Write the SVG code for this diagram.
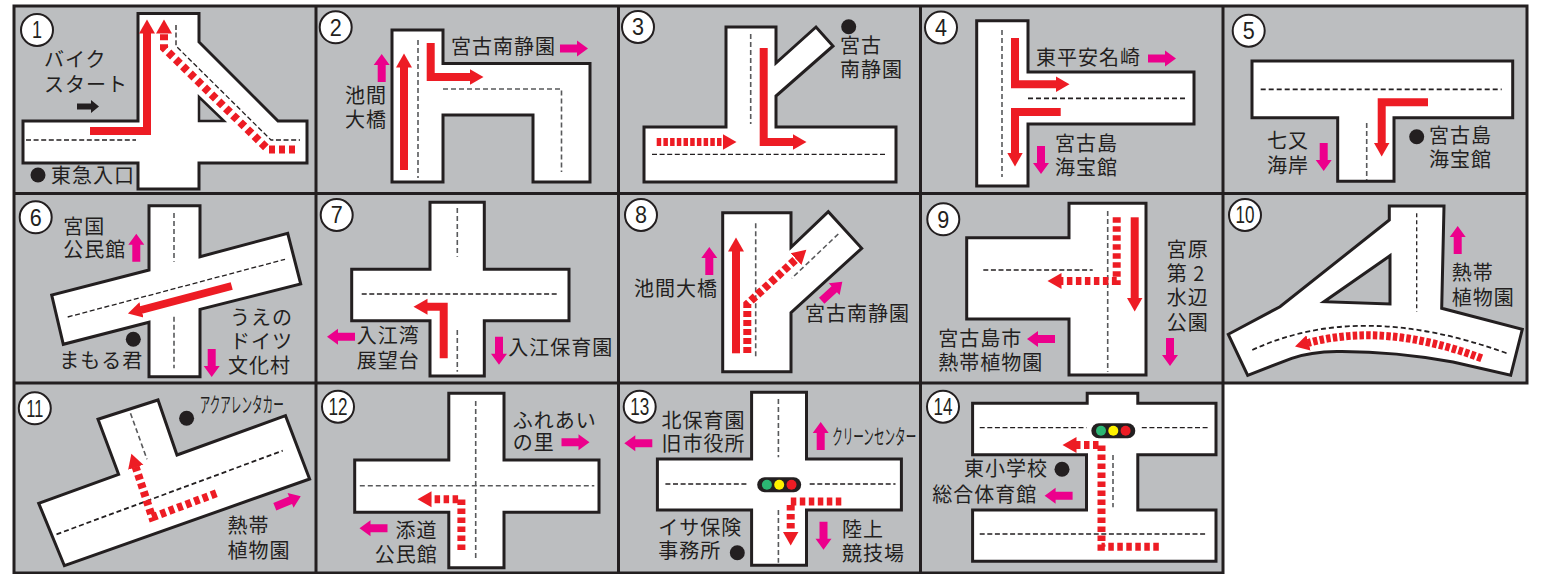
<svg xmlns="http://www.w3.org/2000/svg" width="1541" height="574" viewBox="0 0 1541 574">
<style>
.bg{fill:#bcbec0}
.grid{fill:none;stroke:#231f20;stroke-width:3}
.road{fill:#fff;stroke:#231f20;stroke-width:3;stroke-linejoin:miter}
.hole{fill:#bcbec0;stroke:#231f20;stroke-width:3}
.d{fill:none;stroke:#231f20;stroke-width:1.300;stroke-dasharray:5 2.600}
.h{fill:none;stroke:#231f20;stroke-width:1.800;stroke-dasharray:5 3}
.g{fill:none;stroke:#58595b;stroke-width:1.600;stroke-dasharray:5 3}
.r{fill:none;stroke:#ed1c24;stroke-width:8;marker-end:url(#h)}
.q{stroke-dasharray:5.500 3.500}
.qf{stroke-dasharray:4.500 2.200}
.t{font-family:"Noto Sans CJK JP","Liberation Sans",sans-serif;font-size:20px;letter-spacing:1px;fill:#231f20}
.k{font-family:"Noto Sans CJK JP","Liberation Sans",sans-serif;font-size:21px;fill:#231f20}
.c{fill:#fff;stroke:#231f20;stroke-width:2}
.n{font-family:"Liberation Sans",sans-serif;font-size:23px;fill:#231f20;text-anchor:middle}
.b{fill:#231f20}
.p{fill:#ec008c}
</style>
<defs>
<marker id="h" markerUnits="userSpaceOnUse" markerWidth="16" markerHeight="18" refX="0.5" refY="9" orient="auto"><path d="M0,1L14,9L0,17Z" fill="#ed1c24"/></marker>
<path id="pa" d="M0,-4H17V-8L28,0L17,8V4H0Z"/>
<g id="tl"><rect x="-22" y="-7.500" width="44" height="15" rx="7.500" fill="#231f20"/><circle cx="-12.300" r="5" fill="#2bb673"/><circle r="5" fill="#fff200"/><circle cx="12.300" r="5" fill="#ed1c24"/></g>
</defs>
<g id="board">
<rect class="bg" x="14" y="6" width="1513" height="377"/>
<rect class="bg" x="14" y="383" width="1209" height="190"/>
<path class="grid" d="M14,6H1527V383H14ZM14,193.500H1527M14,383V573H1223V383M316,6V573M618.500,6V573M920.500,6V573M1223,6V383"/>
</g>

<g id="panel-1">
<path class="road" d="M138,13.500H199V42L278,121H307V163H199V189H138V163H23V121H138Z"/>
<path class="hole" d="M199,97L224,121H199Z" style="stroke-width:2.500"/>
<path class="d" d="M26,140H136"/><path class="d" d="M176,25V46L271,140H300"/>
<path class="r" d="M90,131H147V33"/>
<path class="r" style="stroke-dasharray:6 4" d="M295,149.500H268L164,48V33"/>
<circle class="c" cx="37" cy="30" r="16"/><text class="n" x="37" y="38" textLength="10" lengthAdjust="spacingAndGlyphs">1</text>
<text class="t"><tspan x="44" y="67">バイク</tspan><tspan x="44" y="92">スタート</tspan></text>
<path class="b" d="M77,103.500H91V100L99,106.500L91,113V109.500H77Z"/>
<circle class="b" cx="38" cy="175" r="7.500"/><text class="t" x="51" y="183">東急入口</text>
</g>

<g id="panel-2">
<path class="road" d="M392,30H443V63.500H590V182H533V115H443V182H392Z"/>
<path class="g" d="M418,40V178"/><path class="g" d="M443,89H561.500V172"/>
<path class="r" d="M404,170V67"/><path class="r" d="M430.700,43V77H470"/>
<use href="#pa" class="p" transform="translate(381.700,82) rotate(-90)"/>
<circle class="c" cx="335.700" cy="27.300" r="16"/><text class="n" x="335.700" y="35.500" textLength="12" lengthAdjust="spacingAndGlyphs">2</text>
<text class="t"><tspan x="345" y="103">池間</tspan><tspan x="345" y="127">大橋</tspan></text>
<text class="t" x="451" y="54">宮古南静園</text>
<use href="#pa" class="p" transform="translate(560,48.500)"/>
</g>

<g id="panel-3">
<path class="road" d="M726,27H776V63L816,27L833,46L776,96V127H896V182H644V127H726Z"/>
<path class="g" d="M750.700,34V124"/><path class="d" d="M652,154.300H887"/>
<path class="r" d="M763.700,48V142H793"/><path class="r qf" d="M656.700,142H723"/>
<circle class="c" cx="638" cy="27" r="16"/><text class="n" x="638" y="35" textLength="12" lengthAdjust="spacingAndGlyphs">3</text>
<circle class="b" cx="848.700" cy="26.700" r="7.500"/>
<text class="t"><tspan x="840" y="53">宮古</tspan><tspan x="840" y="77">南静園</tspan></text>
</g>

<g id="panel-4">
<path class="road" d="M976.700,20.700H1028V72H1194V124H1028V186H976.700Z"/>
<path class="g" d="M1002,30V177"/><path class="h" d="M1028,98.300H1186.700"/>
<path class="r" d="M1015,38V84.300H1056"/><path class="r" d="M1060.700,112H1015V153"/>
<circle class="c" cx="941" cy="27.500" r="16"/><text class="n" x="941" y="35.500" textLength="12" lengthAdjust="spacingAndGlyphs">4</text>
<text class="t" x="1036" y="64.500">東平安名崎</text><use href="#pa" class="p" transform="translate(1148,58.600)"/>
<text class="t"><tspan x="1055" y="151">宮古島</tspan><tspan x="1055" y="175">海宝館</tspan></text>
<use href="#pa" class="p" transform="translate(1041,146) rotate(90)"/>
</g>

<g id="panel-5">
<path class="road" d="M1252,61H1512.700V117.700H1394V181.300H1337.700V117.700H1252Z"/>
<path class="h" d="M1260.700,89.300H1501.700"/><path class="g" d="M1366.700,123V180"/>
<path class="r" d="M1428,102.300H1381.700V143"/>
<circle class="c" cx="1248.700" cy="30.700" r="16"/><text class="n" x="1248.700" y="39" textLength="12" lengthAdjust="spacingAndGlyphs">5</text>
<text class="t"><tspan x="1267" y="148">七又</tspan><tspan x="1267" y="173">海岸</tspan></text>
<use href="#pa" class="p" transform="translate(1323.700,143) rotate(90)"/>
<circle class="b" cx="1416.700" cy="136.700" r="7.500"/>
<text class="t"><tspan x="1429" y="143">宮古島</tspan><tspan x="1429" y="167">海宝館</tspan></text>
</g>

<g id="panel-6">
<path class="road" d="M149,205.700H200V256.700L287.700,233.300L300.700,284L200,309.300V376.700H149V322.300L63.300,344.300L51.700,295L149,270Z"/>
<path class="g" d="M174,213V261.700"/><path class="g" d="M174,316.700V368.300"/><path class="d" d="M67.700,317L285,259.300"/>
<path class="r" d="M231.700,286L141,310"/>
<circle class="c" cx="35.700" cy="217.300" r="16"/><text class="n" x="35.700" y="225.500" textLength="12" lengthAdjust="spacingAndGlyphs">6</text>
<text class="t"><tspan x="63.300" y="233.700">宮国</tspan><tspan x="63.300" y="257">公民館</tspan></text>
<use href="#pa" class="p" transform="translate(136.300,261.700) rotate(-90)"/>
<circle class="b" cx="133.300" cy="339.300" r="7.500"/><text class="t" x="59.300" y="368">まもる君</text>
<text class="t"><tspan x="230" y="325">うえの</tspan><tspan x="230" y="349">ドイツ</tspan><tspan x="228" y="373">文化村</tspan></text>
<use href="#pa" class="p" transform="translate(211.700,349) rotate(90)"/>
</g>

<g id="panel-7">
<path class="road" d="M430,202.300H484.300V269.300H569V320.700H484.300V376H430V320.700H351.700V269.300H430Z"/>
<path class="g" d="M457.300,208V256.700"/><path class="g" d="M457.300,330V371.700"/><path class="d" d="M361.700,294H559"/>
<path class="r" d="M443.700,358.300V306.700H427"/>
<circle class="c" cx="336.700" cy="215" r="16"/><text class="n" x="336.700" y="223" textLength="12" lengthAdjust="spacingAndGlyphs">7</text>
<use href="#pa" class="p" transform="translate(355,336.700) rotate(180)"/>
<text class="t"><tspan x="356.700" y="343">入江湾</tspan><tspan x="356.700" y="368">展望台</tspan></text>
<use href="#pa" class="p" transform="translate(499,336.700) rotate(90)"/>
<text class="t" x="508.300" y="354.700">入江保育園</text>
</g>

<g id="panel-8">
<path class="road" d="M722.700,212.700H791V247.300L828.300,211.700L861.700,248.300L791,312.700V371.700H722.700Z"/>
<path class="g" d="M755.700,223.300V356.700"/><path class="g" d="M838.300,234L791.700,278.300"/>
<path class="r" d="M736,353.300V251"/>
<path class="r" style="stroke-dasharray:6 3" d="M747.300,353V304L796.400,258.800"/>
<circle class="c" cx="641" cy="215" r="16"/><text class="n" x="641" y="223" textLength="12" lengthAdjust="spacingAndGlyphs">8</text>
<use href="#pa" class="p" transform="translate(709.300,275) rotate(-90)"/>
<text class="t" x="634" y="295.700">池間大橋</text>
<use href="#pa" class="p" transform="translate(821.700,300.700) rotate(-42.600)"/>
<text class="t" x="805" y="321">宮古南静園</text>
</g>

<g id="panel-9">
<path class="road" d="M966.700,237.700H1069V203.300H1146V375H1069V319H966.700Z"/>
<path class="d" d="M983.300,270H1092.700"/><path class="g" d="M1107.700,211V371.700"/>
<path class="r" d="M1134.700,217.300V298"/>
<path class="r q" d="M1116.700,217.300V281H1061"/>
<circle class="c" cx="943.300" cy="219.300" r="16"/><text class="n" x="943.300" y="227.500" textLength="12" lengthAdjust="spacingAndGlyphs">9</text>
<text class="t"><tspan x="1166.700" y="257">宮原</tspan><tspan x="1166.700" y="281">第 2</tspan><tspan x="1166.700" y="305">水辺</tspan><tspan x="1166.700" y="330">公園</tspan></text>
<use href="#pa" class="p" transform="translate(1170,338) rotate(90)"/>
<use href="#pa" class="p" transform="translate(1055,339) rotate(180)"/>
<text class="t"><tspan x="938.300" y="346">宮古島市</tspan><tspan x="938.300" y="370">熱帯植物園</tspan></text>
</g>

<g id="panel-10">
<path class="road" d="M1389.300,206H1444L1441.700,308.300L1522.300,329.300L1510.700,375.300L1453,362Q1393,351 1337,351.500Q1310,352 1291.700,358.300L1247.700,375.300L1228.300,334.300L1280,306.700L1389.300,220Z"/>
<path class="hole" d="M1390,255.700V304L1324,301.700Z"/>
<path class="d" d="M1416.700,213.300V311.700" style="stroke-dasharray:4 3"/>
<path class="h" d="M1252.300,350Q1360,300 1506.700,353.300"/>
<path class="r qf" d="M1481.700,358.300Q1385,322 1308,343"/>
<circle class="c" cx="1245" cy="215" r="16"/><text class="n" x="1245" y="223" textLength="19" lengthAdjust="spacingAndGlyphs">10</text>
<use href="#pa" class="p" transform="translate(1457.700,254) rotate(-90)"/>
<text class="t"><tspan x="1451.700" y="280">熱帯</tspan><tspan x="1451.700" y="304.700">植物園</tspan></text>
</g>

<g id="panel-11">
<path class="road" d="M98,419.300L158,400L177,455L285.500,415.700L309.600,479L64.400,565.700L38.700,503.300L118.600,474.300Z"/>
<path class="g" d="M130.500,413.300L147,459.300"/><path class="h" d="M56.500,534.300L282.700,450.700"/>
<path class="r q" d="M216.300,493.300L152.200,517.300L135.600,466.700"/>
<circle class="c" cx="34.800" cy="408.300" r="16"/><text class="n" x="34.800" y="416.500" textLength="17" lengthAdjust="spacingAndGlyphs">11</text>
<circle class="b" cx="186.600" cy="418.300" r="7.500"/>
<text class="k" x="199.700" y="412" textLength="84" lengthAdjust="spacingAndGlyphs">アクアレンタカー</text>
<use href="#pa" class="p" transform="translate(274.800,506.700) rotate(-22)"/>
<text class="t"><tspan x="227.400" y="533">熱帯</tspan><tspan x="227.400" y="558">植物園</tspan></text>
</g>

<g id="panel-12">
<path class="road" d="M448.800,393.300H504V460H599V512.300H504V567.700H448.800V512.300H354.700V460H448.800Z"/>
<path class="g" d="M475.700,401V560"/><path class="g" d="M359.800,485.700H594.300"/>
<path class="r q" d="M461.400,550V499.300H431"/>
<circle class="c" cx="338" cy="406.700" r="16"/><text class="n" x="338" y="415" textLength="19" lengthAdjust="spacingAndGlyphs">12</text>
<use href="#pa" class="p" transform="translate(387.500,528.300) rotate(180)"/>
<text class="t"><tspan x="395.400" y="538">添道</tspan><tspan x="374.800" y="562">公民館</tspan></text>
<text class="t"><tspan x="512.800" y="428">ふれあい</tspan><tspan x="512.800" y="450">の里</tspan></text>
<use href="#pa" class="p" transform="translate(561.500,442.300)"/>
</g>

<g id="panel-13">
<path class="road" d="M751.600,392.300H806.500V459H901.400V510H806.500V565.300H751.600V510H657.400V459H751.600Z"/>
<path class="g" d="M778.400,399V457.300"/><path class="g" d="M778.400,510V562.700"/>
<path class="d" d="M665.400,484H748.400"/><path class="d" d="M809.700,484H895.500"/>
<use href="#tl" transform="translate(779.200,484.700)"/>
<path class="r q" d="M841.300,501.500H790.700V532"/>
<circle class="c" cx="639.700" cy="406.700" r="16"/><text class="n" x="639.700" y="415" textLength="19" lengthAdjust="spacingAndGlyphs">13</text>
<use href="#pa" class="p" transform="translate(820.700,450) rotate(-90)"/>
<text class="k" x="832.200" y="444" textLength="84" lengthAdjust="spacingAndGlyphs">クリーンセンター</text>
<text class="t"><tspan x="661.400" y="428">北保育園</tspan><tspan x="661.400" y="451">旧市役所</tspan></text>
<use href="#pa" class="p" transform="translate(652.300,443.300) rotate(180)"/>
<text class="t"><tspan x="658.200" y="535">イサ保険</tspan><tspan x="658.200" y="558">事務所</tspan></text>
<circle class="b" cx="737.300" cy="552.700" r="7.500"/>
<use href="#pa" class="p" transform="translate(823.500,521.700) rotate(90)"/>
<text class="t"><tspan x="842" y="537">陸上</tspan><tspan x="842" y="561">競技場</tspan></text>
</g>

<g id="panel-14">
<path class="road" d="M1087.200,393.300H1137.800V403.300H1216V454.700H1137.800V510H1216V561.300H972.600V510H1086.500V454.700H972.600V403.300H1087.200Z"/>
<path class="d" d="M979.700,427.700H1086.500"/><path class="d" d="M1141.800,427.700H1210.200"/>
<path class="g" d="M1113,455V507.300"/><path class="d" d="M979.700,534H1207"/>
<use href="#tl" transform="translate(1113.300,430.700)"/>
<path class="r q" d="M1158.800,546.700H1101.500V445H1076"/>
<circle class="c" cx="943" cy="406.700" r="16"/><text class="n" x="943" y="415" textLength="19" lengthAdjust="spacingAndGlyphs">14</text>
<text class="t" x="963.900" y="476">東小学校</text><circle class="b" cx="1062" cy="469.300" r="7.500"/>
<text class="t" x="932.200" y="502">総合体育館</text>
<use href="#pa" class="p" transform="translate(1072.600,495.700) rotate(180)"/>
</g>
</svg>
